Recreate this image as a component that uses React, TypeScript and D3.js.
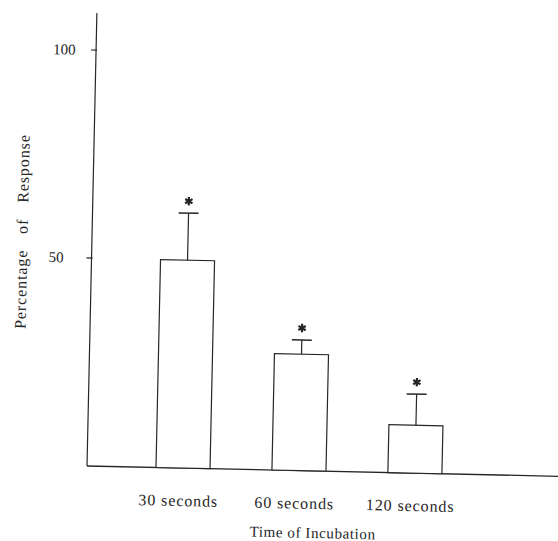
import React from 'react';
import * as d3 from 'd3';

const categories = ['30 seconds', '60 seconds', '120 seconds'];
const means = [50, 28, 11.5];
const errors = [11.3, 3.4, 7.5];
const yTicks = [50, 100];
const yTickLabels = ['50', '100'];

const W = 558;
const H = 541;
const x0 = 87;   // y axis position
const y0 = 466;  // x axis position
const ink = '#262626';
const font = '"Liberation Serif", "Times New Roman", serif';

const App = () => {
  const yScale = d3.scaleLinear().domain([0, 100]).range([y0, y0 - 416]);
  const xScale = d3.scaleBand<string>()
    .domain(categories)
    .range([x0, 511])
    .paddingInner(0.534)
    .paddingOuter(0.595);
  const star = d3.symbol(d3.symbolAsterisk, 50)();

  return (
    <svg
      width={W}
      height={H}
      style={{ position: 'absolute', left: 0, top: 0, background: '#fff' }}
    >
      <g transform={`rotate(1.25, ${x0}, ${y0})`} fontFamily={font} fill={ink}>
        {/* axes */}
        <line x1={x0} x2={x0} y1={y0} y2={y0 - 453} stroke={ink} strokeWidth={1.2} />
        <line x1={x0} x2={x0 + 475} y1={y0} y2={y0} stroke={ink} strokeWidth={1.3} />

        {yTicks.map((t, i) => (
          <g key={t}>
            <line x1={x0 - 5} x2={x0 + 1} y1={yScale(t)} y2={yScale(t)} stroke={ink} strokeWidth={1.2} />
            <text x={x0 - 43} y={yScale(t) + 5} fontSize={15}>{yTickLabels[i]}</text>
          </g>
        ))}

        {/* bars with upper error bars and significance marks */}
        {categories.map((c, i) => {
          const bx = xScale(c) as number;
          const bw = xScale.bandwidth();
          const cx = bx + bw / 2;
          const top = yScale(means[i]);
          const cap = yScale(means[i] + errors[i]);
          return (
            <g key={c}>
              <rect x={bx} y={top} width={bw} height={y0 - top} fill="#fff" stroke={ink} strokeWidth={1.2} />
              <line x1={cx} x2={cx} y1={top} y2={cap} stroke={ink} strokeWidth={1.2} />
              <line x1={cx - 10} x2={cx + 10} y1={cap} y2={cap} stroke={ink} strokeWidth={1.5} />
              <path d={star} transform={`translate(${cx},${cap - 12})`} fill="none" stroke={ink} strokeWidth={2.2} />
              <text x={cx - 4} y={504} textAnchor="middle" fontSize={16} letterSpacing={0.9}>{c}</text>
            </g>
          );
        })}

        <text x={314} y={533} textAnchor="middle" fontSize={15} letterSpacing={0.6}>Time of Incubation</text>
        <text
          transform={`translate(17, 233) rotate(-90)`}
          textAnchor="middle"
          fontSize={16}
          letterSpacing={0.9}
          wordSpacing={11}
          dominantBaseline="central"
        >
          Percentage of Response
        </text>
      </g>
    </svg>
  );
};

export default App;
